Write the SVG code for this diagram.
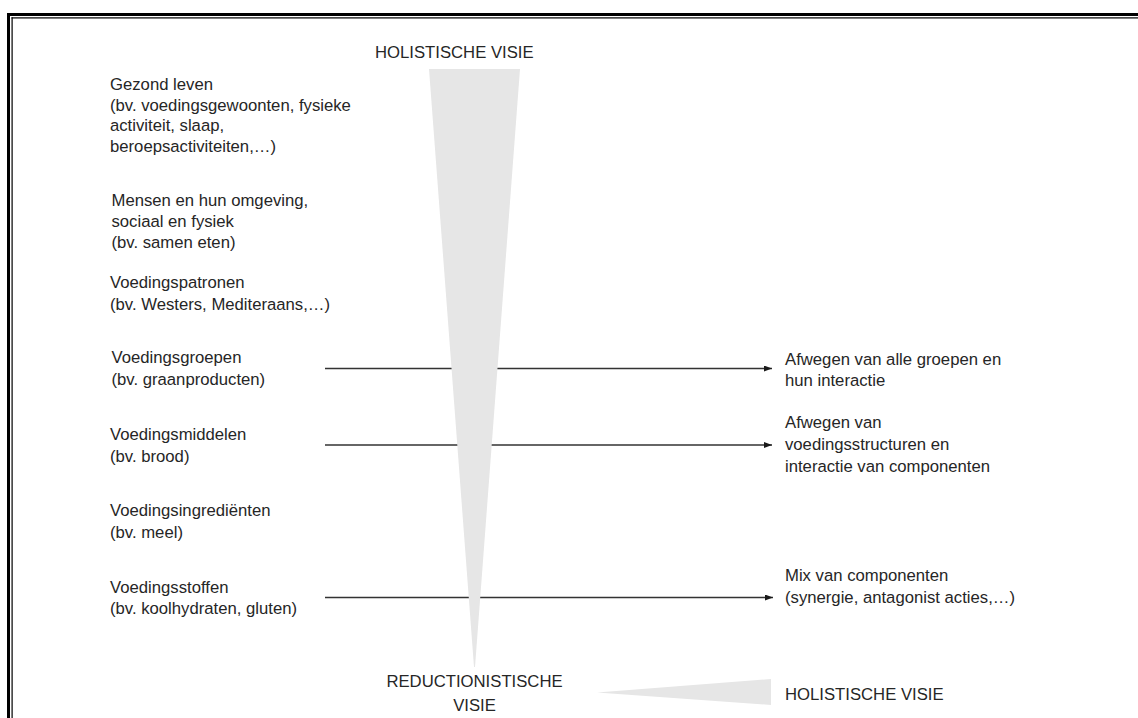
<svg xmlns="http://www.w3.org/2000/svg" width="1138" height="718" viewBox="0 0 1138 718">
  <style>
    text { font-family: "Liberation Sans", Arial, sans-serif; font-size: 16.7px; fill: #262626; }
    .head { font-size: 16.7px; }
    .conn { stroke: #333333; stroke-width: 1.5; fill: none; }
    .wedge { fill: #e6e6e6; stroke: none; }
  </style>
  <defs>
    <marker id="arrow" viewBox="0 0 8 6" refX="8" refY="3" markerWidth="8" markerHeight="6" markerUnits="userSpaceOnUse" orient="auto">
      <path d="M0,0 L8,3 L0,6 z" fill="#1a1a1a"/>
    </marker>
  </defs>
  <rect width="1138" height="718" fill="#ffffff"/>

  <!-- frame -->
  <g id="frame">
    <rect x="7" y="13" width="1131" height="3" fill="#000"/>
    <rect x="7" y="13" width="3" height="705" fill="#000"/>
    <rect x="11.5" y="17.3" width="1126.5" height="1.2" fill="#000"/>
    <rect x="11.5" y="17.3" width="1.2" height="700.7" fill="#000"/>
  </g>

  <!-- connectors (drawn beneath the wedge) -->
  <g id="connectors">
    <line class="conn" x1="325" y1="368.5" x2="772" y2="368.5" marker-end="url(#arrow)"/>
    <line class="conn" x1="325" y1="445" x2="772" y2="445" marker-end="url(#arrow)"/>
    <line class="conn" x1="325" y1="597.5" x2="773" y2="597.5" marker-end="url(#arrow)"/>
  </g>

  <!-- vertical wedge -->
  <polygon id="wedge-vertical" class="wedge" points="429,69 520,69 475,667 474,667"/>
  <!-- horizontal wedge -->
  <polygon id="wedge-horizontal" class="wedge" points="597,692.5 771,679 771,705"/>

  <g id="label-holistic-top"><text class="head" x="375" y="58">HOLISTISCHE VISIE</text></g>
  <g id="label-reductionist">
    <text class="head" x="474.5" y="687" text-anchor="middle">REDUCTIONISTISCHE</text>
    <text class="head" x="474.5" y="711" text-anchor="middle">VISIE</text>
  </g>
  <g id="label-holistic-bottom"><text class="head" x="785" y="700">HOLISTISCHE VISIE</text></g>

  <g id="node-gezond-leven">
    <text x="110" y="90">Gezond leven</text>
    <text x="110" y="110.7">(bv. voedingsgewoonten, fysieke</text>
    <text x="110" y="131.4">activiteit, slaap,</text>
    <text x="110" y="152">beroepsactiviteiten,…)</text>
  </g>
  <g id="node-mensen">
    <text x="111.5" y="206">Mensen en hun omgeving,</text>
    <text x="111.5" y="227">sociaal en fysiek</text>
    <text x="111.5" y="248">(bv. samen eten)</text>
  </g>
  <g id="node-voedingspatronen">
    <text x="110" y="288">Voedingspatronen</text>
    <text x="110" y="310">(bv. Westers, Mediteraans,…)</text>
  </g>
  <g id="node-voedingsgroepen">
    <text x="111.5" y="363">Voedingsgroepen</text>
    <text x="111.5" y="385">(bv. graanproducten)</text>
  </g>
  <g id="node-voedingsmiddelen">
    <text x="110" y="440">Voedingsmiddelen</text>
    <text x="110" y="462">(bv. brood)</text>
  </g>
  <g id="node-voedingsingredienten">
    <text x="110" y="516">Voedingsingrediënten</text>
    <text x="110" y="538">(bv. meel)</text>
  </g>
  <g id="node-voedingsstoffen">
    <text x="110" y="592.5">Voedingsstoffen</text>
    <text x="110" y="614">(bv. koolhydraten, gluten)</text>
  </g>

  <g id="node-afwegen-groepen">
    <text x="785" y="365">Afwegen van alle groepen en</text>
    <text x="785" y="386">hun interactie</text>
  </g>
  <g id="node-afwegen-structuren">
    <text x="785" y="428">Afwegen van</text>
    <text x="785" y="450">voedingsstructuren en</text>
    <text x="785" y="471.5">interactie van componenten</text>
  </g>
  <g id="node-mix">
    <text x="785" y="581">Mix van componenten</text>
    <text x="785" y="603">(synergie, antagonist acties,…)</text>
  </g>
</svg>
